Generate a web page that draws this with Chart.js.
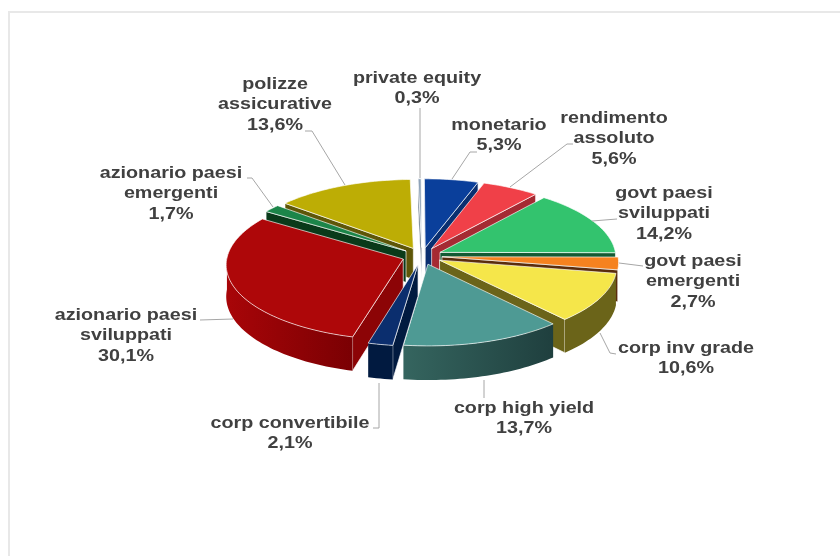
<!DOCTYPE html>
<html>
<head>
<meta charset="utf-8">
<style>
  html, body { margin: 0; padding: 0; background: #fff; }
  #wrap { position: relative; width: 840px; height: 556px; }
</style>
<script src="https://cdn.jsdelivr.net/npm/chart.js@4"></script>
</head>
<body>
<div id="wrap"><canvas id="pie" width="840" height="556"></canvas></div>
<script>
const categories = ['private equity', 'monetario', 'rendimento assoluto', 'govt paesi sviluppati',
  'govt paesi emergenti', 'corp inv grade', 'corp high yield', 'corp convertibile',
  'azionario paesi sviluppati', 'azionario paesi emergenti', 'polizze assicurative'];
const shares = [0.3, 5.3, 5.6, 14.2, 2.7, 10.6, 13.7, 2.1, 30.1, 1.7, 13.6];
const valueLabels = ['0,3%', '5,3%', '5,6%', '14,2%', '2,7%', '10,6%', '13,7%', '2,1%', '30,1%', '1,7%', '13,6%'];
const topColors = ['#8fa3b8', '#0a3f9b', '#f04048', '#33c36e', '#f5821f', '#f5e64a', '#4e9a94', '#0b2e6e', '#ae0709', '#1c8549', '#bdad05'];
const sideColors = ['#55677a', '#0a2f70', '#a52a33', '#135a33', '#5a2c0c', '#6b6419', '#1f3f3e', '#011a40', '#8c0406', '#0a3a1a', '#5e5608'];
const wallLeftColors = ['#55677a', '#0a2f70', '#a52a33', '#135a33', '#5a2c0c', '#6b6419', '#35655f', '#011a40', '#a80508', '#0a3a1a', '#5e5608'];
const wallRightColors = ['#55677a', '#0a2f70', '#a52a33', '#135a33', '#5a2c0c', '#6b6419', '#1f3f3e', '#011a40', '#7a0003', '#0a3a1a', '#5e5608'];

// Label text broken into lines, in the same order as the categories.
const labelLines = [
  ['private equity'], ['monetario'], ['rendimento', 'assoluto'], ['govt paesi', 'sviluppati'],
  ['govt paesi', 'emergenti'], ['corp inv grade'], ['corp high yield'], ['corp convertibile'],
  ['azionario paesi', 'sviluppati'], ['azionario paesi', 'emergenti'], ['polizze', 'assicurative']
];
// Label placement: centre x and the centre y of the first line.
const labelPlacement = [[417, 78], [499, 125], [614, 118], [664, 193], [693, 261], [686, 348], [524, 408], [290, 423], [126, 315], [171, 173], [275, 84]];
// Leader line routes, starting at the slice rim and ending next to the label.
const leaderRoutes = [
  [[420, 178], [420, 108]],
  [[452, 179], [470, 152], [477, 152]],
  [[510, 187], [567, 144], [573, 144]],
  [[592, 221], [617, 219]],
  [[619, 263], [643, 266]],
  [[600, 333], [610, 353], [616, 354]],
  [[484, 380], [484, 398]],
  [[379, 383], [379, 428], [373, 428]],
  [[233, 319], [200, 320]],
  [[273, 207], [252, 178], [247, 178]],
  [[345, 185], [312, 131], [305, 131]]
];

const TILT = 0.425;       // vertical squash of the disc
const PERSPECTIVE = 0.07; // how much nearer parts of the disc grow
const DEPTH = 31.5;       // disc thickness
const LINE_HEIGHT = 20.5;
const TEXT_STRETCH = 1.195;

const solidPie = {
  id: 'solidPie',
  beforeDatasetsDraw(chart) {
    const ctx = chart.ctx;
    const arcs = chart.getDatasetMeta(0).data;
    const R = arcs[0].outerRadius;
    const cx = arcs[0].x, cy = arcs[0].y;

    // Outer frame: top and left rules only
    ctx.strokeStyle = '#e8e8e8';
    ctx.lineWidth = 2;
    ctx.beginPath();
    ctx.moveTo(840, 12);
    ctx.lineTo(9, 12);
    ctx.lineTo(9, 556);
    ctx.stroke();

    const project = (x, y, lift) => {
      const p = 1 / (1 - PERSPECTIVE * y / R);
      return [cx + x * p, cy + y * TILT * p + lift * p];
    };

    const slices = arcs.map((arc, i) => {
      const mid = (arc.startAngle + arc.endAngle) / 2;
      const off = arc.options.offset || 0;
      const ox = Math.cos(mid) * off, oy = Math.sin(mid) * off;
      const rim = [];
      const steps = Math.max(4, Math.ceil((arc.endAngle - arc.startAngle) * 40));
      for (let s = 0; s <= steps; s++) {
        const a = arc.startAngle + (arc.endAngle - arc.startAngle) * s / steps;
        rim.push([ox + Math.cos(a) * arc.outerRadius, oy + Math.sin(a) * arc.outerRadius, a]);
      }
      return { i, mid, ox, oy, rim, arc, depthKey: oy + Math.sin(mid) * arc.outerRadius * 0.5 };
    }).sort((a, b) => a.depthKey - b.depthKey);

    const fillPoly = (pts, fill, stroke) => {
      ctx.beginPath();
      pts.forEach((q, n) => n ? ctx.lineTo(q[0], q[1]) : ctx.moveTo(q[0], q[1]));
      ctx.closePath();
      ctx.fillStyle = fill;
      ctx.fill();
      if (stroke) { ctx.strokeStyle = stroke; ctx.lineWidth = 1; ctx.stroke(); }
    };
    const EDGE = 'rgba(255,255,255,0.65)';

    slices.forEach(sl => {
      const { i, ox, oy, rim, arc } = sl;
      const apexTop = project(ox, oy, 0), apexBot = project(ox, oy, DEPTH);
      const first = rim[0], last = rim[rim.length - 1];

      // Cut faces that look toward the viewer
      if (-Math.cos(arc.startAngle) > 0) {
        fillPoly([apexTop, project(first[0], first[1], 0), project(first[0], first[1], DEPTH), apexBot], sideColors[i], EDGE);
      }
      if (Math.cos(arc.endAngle) > 0) {
        fillPoly([apexTop, project(last[0], last[1], 0), project(last[0], last[1], DEPTH), apexBot], sideColors[i], EDGE);
      }

      // Rounded outer wall, shaded left to right; slices whose rim barely
      // turns toward the viewer show no wall at all
      const near = rim.filter(q => Math.sin(q[2]) > -0.02);
      if (near.length > 1 && Math.max(...near.map(q => Math.sin(q[2]))) > 0.18) {
        const topEdge = near.map(q => project(q[0], q[1], 0));
        const botEdge = near.map(q => project(q[0], q[1], DEPTH));
        const xs = topEdge.map(q => q[0]);
        const wall = ctx.createLinearGradient(Math.min(...xs), 0, Math.max(...xs) + 1, 0);
        wall.addColorStop(0, wallLeftColors[i]);
        wall.addColorStop(1, wallRightColors[i]);
        fillPoly(topEdge.concat(botEdge.slice().reverse()), wall, null);
      }

      // Top face
      fillPoly([apexTop].concat(rim.map(q => project(q[0], q[1], 0))), topColors[i], EDGE);
    });

    // Leader lines
    ctx.strokeStyle = '#a6a6a6';
    ctx.lineWidth = 1;
    leaderRoutes.forEach(route => {
      ctx.beginPath();
      route.forEach((q, n) => n ? ctx.lineTo(q[0], q[1]) : ctx.moveTo(q[0], q[1]));
      ctx.stroke();
    });

    // Labels, set wide
    ctx.fillStyle = '#404040';
    ctx.font = 'bold 16.5px "Liberation Sans", Arial, sans-serif';
    ctx.textAlign = 'center';
    ctx.textBaseline = 'middle';
    labelLines.forEach((lines, i) => {
      const [lx, ly] = labelPlacement[i];
      lines.concat(valueLabels[i]).forEach((t, n) => {
        ctx.save();
        ctx.translate(lx, ly + n * LINE_HEIGHT);
        ctx.scale(TEXT_STRETCH, 1);
        ctx.fillText(t, 0, 0);
        ctx.restore();
      });
    });

    return false; // the solid slices replace the flat arcs
  }
};

new Chart(document.getElementById('pie'), {
  type: 'pie',
  data: {
    labels: categories,
    datasets: [{ data: shares, backgroundColor: topColors, offset: 20, borderWidth: 0, radius: 176 }]
  },
  options: {
    responsive: false,
    animation: false,
    rotation: -1.3,
    layout: { padding: { left: 4, bottom: 44 } },
    plugins: { legend: { display: false }, tooltip: { enabled: false } }
  },
  plugins: [solidPie]
});
</script>
</body>
</html>
